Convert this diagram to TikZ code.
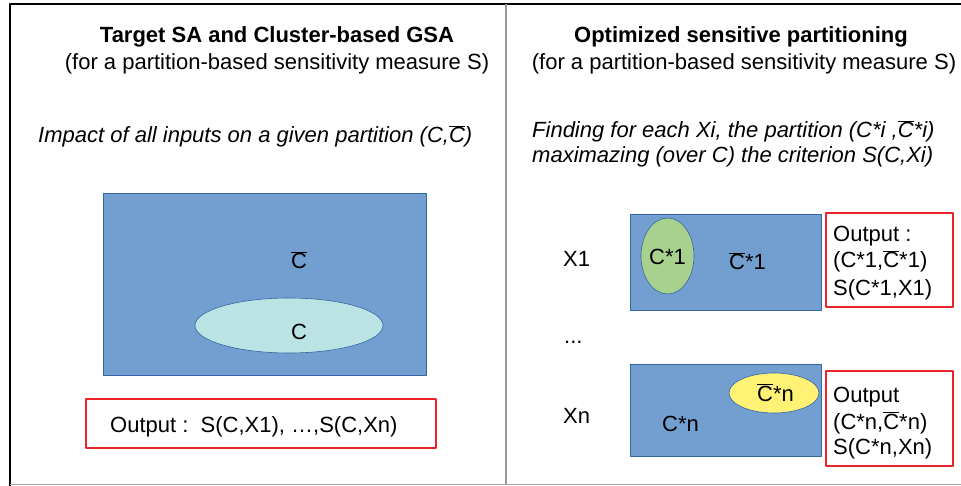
\documentclass[tikz,border=0pt]{standalone}
\usepackage{fontspec}
\setmainfont{Liberation Sans}
\usetikzlibrary{positioning}
\definecolor{partblue}{HTML}{729FCF}
\definecolor{partedge}{HTML}{3465A4}
\definecolor{setcyan}{HTML}{BBE3E3}
\definecolor{setgreen}{HTML}{A9D18E}
\definecolor{setyellow}{HTML}{FFF275}
\definecolor{outred}{HTML}{E8232B}
\newcommand{\cbar}{\ensuremath{\overline{\mbox{C}}}}
\tikzset{
  partbox/.style={draw=partedge,line width=0.8pt,fill=partblue},
  subset/.style={draw=partedge,line width=0.6pt},
  outbox/.style={draw=outred,line width=2.6pt},
  txt/.style={inner sep=0pt,anchor=base west},
  ctxt/.style={inner sep=0pt,anchor=base}
}

\begin{document}
\begin{tikzpicture}[x=1pt,y=-1pt,line join=round,font=\fontsize{22}{26.5}\selectfont]
\useasboundingbox (0,0) rectangle (961,486);
% --- frame
\draw[line width=2pt] (10,486) -- (10,4) -- (961,4);
\draw[gray!70,line width=1.5pt] (10,484.5) -- (961,484.5);
\draw[gray!80,line width=2pt] (506,4) -- (506,484);
% --- left: one given partition
\node[ctxt,font=\fontsize{22}{26.5}\selectfont\bfseries] (ltitle) at (277,43) {Target SA and Cluster-based GSA};
\node[ctxt] (lsub) at (277,70) {(for a partition-based sensitivity measure S)};
\node[txt,font=\fontsize{22}{26.5}\selectfont\itshape] (limpact) at (38,143) {Impact of all inputs on a given partition (C,\cbar)};
\draw[partbox] (103,193) rectangle (426,375);
\draw[subset,fill=setcyan] (289,325.5) ellipse [x radius=94,y radius=27.5];
\node[ctxt] (lcbar) at (299,269) {\cbar};
\node[ctxt] (lc) at (299,339) {C};
\draw[outbox] (86,399) rectangle (436,448);
\node[txt] (lout) at (110,432) {Output :\ \ S(C,X1), …,S(C,Xn)};
% --- right: one optimized partition per input
\node[ctxt,font=\fontsize{22}{26.5}\selectfont\bfseries] (rtitle) at (741,43) {Optimized sensitive partitioning};
\node[ctxt] (rsub) at (744,70) {(for a partition-based sensitivity measure S)};
\node[txt,font=\fontsize{22}{26.5}\selectfont\itshape] (rfind) at (532,138) {Finding for each Xi, the partition (C*i ,\cbar*i)};
\node[txt,font=\fontsize{22}{26.5}\selectfont\itshape] (rmax) at (532,163) {maximazing (over C) the criterion S(C,Xi)};
\node[txt] (x1) at (563,267) {X1};
\node[txt] (xdots) at (564,343) {...};
\node[txt] (xn) at (563,423) {Xn};
% X1 row
\draw[partbox] (630,214) rectangle (821,310);
\draw[subset,fill=setgreen] (667.5,256) ellipse [x radius=26.5,y radius=38];
\node[txt] (c1) at (649,265) {C*1};
\node[txt] (cbar1) at (729,270) {\cbar*1};
\draw[outbox] (826,213) rectangle (953,307);
\node[txt] (out1a) at (833,242) {Output :};
\node[txt] (out1b) at (833,268) {(C*1,\cbar*1)};
\node[txt] (out1c) at (833,295) {S(C*1,X1)};
% Xn row
\draw[partbox] (630,364) rectangle (821,456);
\draw[subset,fill=setyellow] (774,393) ellipse [x radius=45,y radius=20];
\node[txt] (cbarn) at (757,401) {\cbar*n};
\node[txt] (cn) at (662,431) {C*n};
\draw[outbox] (826,371) rectangle (953,466);
\node[txt] (outna) at (833,402) {Output};
\node[txt] (outnb) at (833,429) {(C*n,\cbar*n)};
\node[txt] (outnc) at (833,454) {S(C*n,Xn)};
\end{tikzpicture}
\end{document}
